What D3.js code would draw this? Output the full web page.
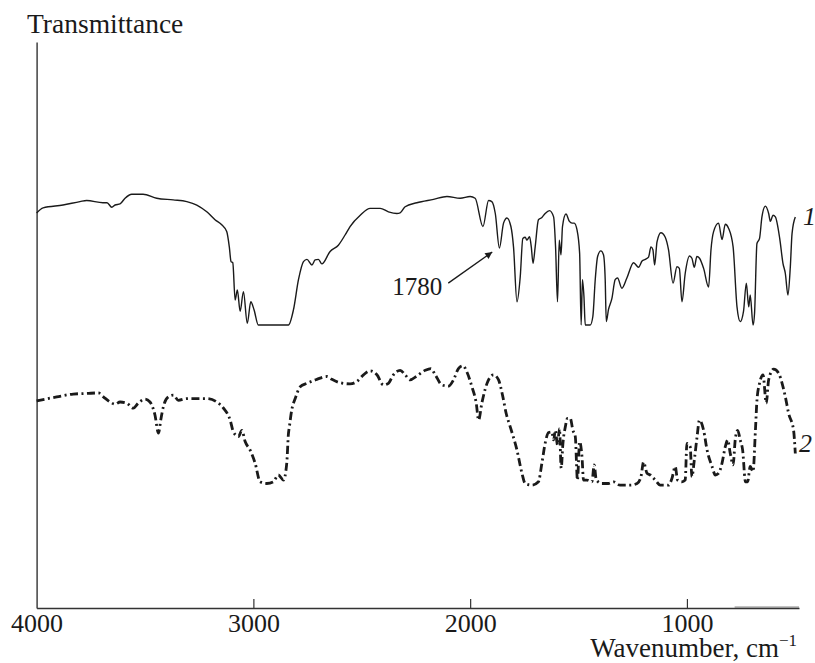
<!DOCTYPE html>
<html><head><meta charset="utf-8">
<script src="https://cdn.jsdelivr.net/npm/d3@7/dist/d3.min.js"></script>
<style>body{margin:0;background:#fff}svg{display:block}text{font-family:"Liberation Serif","Times New Roman",serif;fill:#1a1a1a}</style>
</head><body><svg id="c" width="815" height="663"></svg>
<script>
// wavenumber (cm^-1) and transmittance (arbitrary %)
const wn1 = [4000,3970,3878,3800,3769,3694,3675,3653,3638,3615,3592,3561,3509,3446,3370,3307,3261,3215,3177,3146,3123,3111,3103,3095,3084,3074,3061,3046,3028,3012,2997,2977,2838,2815,2792,2769,2753,2730,2715,2700,2684,2646,2608,2577,2554,2507,2461,2415,2377,2338,2323,2300,2246,2169,2107,2046,2000,1977,1941,1915,1900,1884,1865,1846,1830,1812,1800,1784,1769,1757,1746,1738,1726,1718,1710,1700,1685,1669,1654,1634,1615,1606,1597,1589,1581,1574,1558,1542,1530,1520,1507,1495,1488,1482,1475,1469,1446,1434,1423,1412,1397,1385,1377,1372,1362,1346,1331,1320,1300,1277,1246,1223,1207,1192,1177,1166,1157,1149,1138,1120,1100,1085,1064,1046,1035,1023,1008,988,977,966,954,942,923,900,889,877,854,838,823,808,787,769,754,739,726,715,708,695,688,677,665,654,638,623,615,603,592,572,557,546,534,523,515,500];
const tr1 = [69.8,70.7,71.2,71.8,72.0,71.6,71.6,70.8,71.2,71.4,72.4,73.1,73.1,72.4,72.1,71.8,71.2,70.0,68.6,67.7,66.5,63.8,61.2,61.0,54.4,56.2,52.4,55.9,50.3,54.1,52.7,50.0,50.0,52.7,58.0,61.2,61.6,60.6,61.5,61.6,60.8,63.0,64.1,65.9,67.4,69.4,70.6,70.6,70.0,69.7,69.8,70.9,71.6,72.2,72.7,72.4,72.7,72.4,67.4,72.0,71.8,69.7,63.6,68.0,68.9,67.4,63.8,54.1,58.5,65.3,65.5,65.0,65.6,63.8,60.9,63.8,68.6,69.0,69.7,70.2,69.1,63.8,54.1,65.0,62.4,67.4,69.6,68.3,68.0,68.0,66.8,62.7,50.0,58.0,55.0,50.0,50.0,51.5,58.0,62.1,63.1,62.4,58.0,50.6,52.7,54.7,58.0,58.3,56.5,58.3,61.0,60.2,61.3,61.6,62.0,63.8,63.3,60.6,64.7,66.3,65.5,63.3,57.4,60.3,60.0,54.1,59.1,62.2,61.8,60.2,62.1,61.8,60.0,56.7,63.3,66.5,68.0,65.1,67.8,67.1,63.8,53.2,50.6,52.4,57.4,53.2,55.3,50.0,52.1,64.4,65.3,69.1,71.0,69.7,68.3,69.4,69.1,65.3,60.9,59.1,55.3,60.3,66.2,69.1];
const wn2 = [4000,3907,3831,3769,3715,3692,3661,3638,3615,3584,3554,3531,3500,3477,3454,3438,3426,3415,3392,3369,3346,3307,3261,3215,3169,3138,3107,3092,3069,3053,3038,3015,2992,2969,2938,2908,2885,2861,2846,2838,2834,2823,2807,2784,2753,2707,2661,2638,2600,2554,2523,2492,2461,2430,2400,2377,2354,2323,2300,2277,2246,2207,2181,2161,2130,2100,2077,2054,2033,2015,1992,1972,1961,1946,1923,1892,1869,1849,1834,1815,1784,1761,1746,1715,1685,1669,1654,1638,1623,1615,1607,1597,1588,1580,1572,1561,1551,1538,1526,1515,1505,1495,1484,1477,1461,1438,1428,1418,1392,1362,1338,1308,1261,1230,1212,1200,1184,1169,1146,1123,1085,1069,1054,1043,1023,1008,1000,985,977,966,954,942,923,907,884,869,854,838,823,812,800,787,777,766,754,743,730,720,708,695,684,677,665,649,634,623,600,577,561,546,531,508,500];
const tr2 = [36.6,37.3,37.8,37.9,38.0,37.3,36.4,36.0,36.4,36.2,35.3,36.2,36.9,36.4,34.1,30.9,33.5,35.6,37.3,37.6,36.7,37.0,37.0,37.0,36.4,35.3,33.2,31.1,30.3,31.4,29.4,27.9,25.6,22.3,22.0,22.3,23.5,22.6,25.6,30.9,32.0,35.0,37.0,39.1,39.7,40.4,40.9,40.4,39.8,39.6,40.0,41.2,41.9,41.2,39.4,39.7,41.2,42.0,41.2,40.3,41.0,42.0,42.3,41.2,39.4,39.2,40.3,42.3,42.8,41.7,39.1,36.2,33.2,36.2,39.6,41.2,40.3,37.3,34.4,32.0,27.9,23.8,22.0,21.7,22.3,25.6,29.1,31.0,31.1,29.7,31.4,28.8,31.7,24.7,29.1,32.0,33.5,33.5,31.4,30.3,22.6,29.4,26.7,22.6,22.6,22.3,25.3,22.6,22.0,22.0,22.3,21.7,21.7,22.0,23.2,25.8,23.8,23.5,22.6,21.7,21.7,22.9,25.0,22.6,22.3,22.6,29.1,28.5,23.2,26.1,30.0,33.2,31.4,27.9,25.0,23.5,23.8,25.6,28.5,29.7,27.3,25.3,29.8,31.4,29.7,27.9,22.3,22.3,25.0,24.1,31.4,36.7,39.7,41.2,36.2,40.3,42.2,41.5,39.7,37.3,34.4,31.4,27.3];
const xTicks = [4000,3000,2000,1000];
const xTickLabels = ["4000","3000","2000","1000"];
const seriesLabels = ["1","2"];
const peakLabel = "1780";

const svg = d3.select("#c");
const x = d3.scaleLinear().domain([4000,483]).range([36.6,799]);
const y = d3.scaleLinear().domain([0,100]).range([608,42]);

// axes
const xAxis = d3.axisBottom(x).tickValues(xTicks).tickFormat((d,i)=>xTickLabels[i]).tickSizeInner(-9).tickSizeOuter(0);
const gx = svg.append("g").attr("transform","translate(0,608)").call(xAxis);
gx.select(".domain").attr("stroke","#333").attr("stroke-width",1.4);
gx.selectAll(".tick line").attr("stroke","#333").attr("stroke-width",1.2);
gx.selectAll(".tick text").attr("y",24).attr("dy",0).attr("font-size",26).attr("font-family","Liberation Serif").attr("fill","#1a1a1a");
gx.select(".tick line").remove();
svg.append("line").attr("x1",x(780)).attr("x2",x(483)).attr("y1",607.2).attr("y2",607.2).attr("stroke","#888").attr("stroke-width",1.2);

const gy = svg.append("g").attr("transform","translate(36.6,0)").call(d3.axisLeft(y).tickValues([]).tickSizeOuter(0));
gy.select(".domain").attr("stroke","#333").attr("stroke-width",1.4);

svg.append("text").attr("x",27).attr("y",33).attr("font-size",27.5).text("Transmittance");
const xl = svg.append("text").attr("x",797).attr("y",657).attr("font-size",27).attr("text-anchor","end");
xl.append("tspan").text("Wavenumber, cm");
xl.append("tspan").attr("dy",-11).attr("font-size",17).text("\u22121");

// curves
const line = d3.line().x(d=>x(d[0])).y(d=>y(d[1])).curve(d3.curveMonotoneX);
svg.append("path").datum(wn1.map((w,i)=>[w,tr1[i]])).attr("d",line)
  .attr("fill","none").attr("stroke","#1a1a1a").attr("stroke-width",1.4).attr("stroke-linejoin","round");
svg.append("path").datum(wn2.map((w,i)=>[w,tr2[i]])).attr("d",line)
  .attr("fill","none").attr("stroke","#1a1a1a").attr("stroke-width",2.8).attr("stroke-dasharray","8,3.5,2,3.5");

// series labels
svg.append("text").attr("x",803).attr("y",225).attr("font-size",26).attr("font-style","italic").text(seriesLabels[0]);
svg.append("text").attr("x",799).attr("y",452).attr("font-size",26).attr("font-style","italic").text(seriesLabels[1]);

// annotation
svg.append("defs").append("marker").attr("id","ah").attr("viewBox","0 0 10 10").attr("refX",10).attr("refY",5)
  .attr("markerWidth",11).attr("markerHeight",7).attr("markerUnits","userSpaceOnUse").attr("orient","auto")
  .append("path").attr("d","M0,0L10,5L0,10Z").attr("fill","#1a1a1a");
svg.append("line").attr("x1",x(2101)).attr("y1",y(57.4)).attr("x2",x(1898)).attr("y2",y(62.9))
  .attr("stroke","#1a1a1a").attr("stroke-width",1.3).attr("marker-end","url(#ah)");
svg.append("text").attr("x",x(2129)).attr("y",y(55.3)).attr("text-anchor","end").attr("font-size",25).text(peakLabel);
</script></body></html>
